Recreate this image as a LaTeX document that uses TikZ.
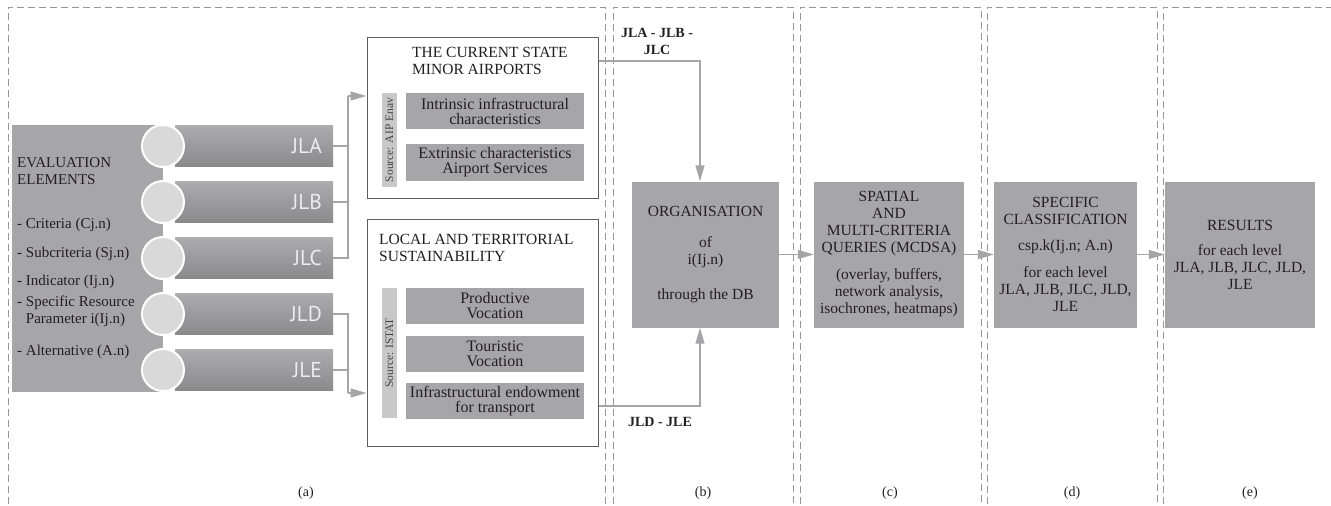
\documentclass[tikz,border=0pt]{standalone}
\usepackage{fontspec}
\setmainfont{Liberation Serif}
\newfontfamily\tabfont{PT Sans}
\usetikzlibrary{arrows.meta}
\definecolor{boxgray}{RGB}{166,166,168}
\definecolor{circgray}{RGB}{217,217,217}
\definecolor{stripgray}{RGB}{200,200,200}
\definecolor{tabtop}{RGB}{172,172,174}
\definecolor{tabbot}{RGB}{138,138,140}
\definecolor{tabtxt}{RGB}{236,236,236}
\definecolor{txt}{RGB}{35,31,32}
\definecolor{linegray}{RGB}{165,165,167}
\definecolor{framegray}{RGB}{150,150,150}
\definecolor{bordergray}{RGB}{95,95,95}
\newcommand\mfs{\fontsize{15.5}{17}\selectfont}
\newcommand\sfs{\fontsize{16}{15}\selectfont}
\newcommand\efs{\fontsize{15}{17}\selectfont}
\tikzset{
  frame/.style={draw=framegray, line width=0.9pt, dash pattern=on 7pt off 4pt},
  gbox/.style={fill=boxgray, draw=none, inner sep=0pt, align=center, font=\mfs, text=txt},
  sbox/.style={gbox, font=\sfs, minimum width=178pt, minimum height=36pt},
  wbox/.style={draw=bordergray, line width=1pt, fill=white, inner sep=0pt},
  strip/.style={fill=stripgray, inner sep=0pt, rotate=90, font=\fontsize{11.5}{12}\selectfont, text=txt!85},
  tabbox/.style={top color=tabtop, bottom color=tabbot, draw=none, minimum width=158pt, minimum height=41pt,
     text width=136pt, align=right, inner xsep=11pt, inner ysep=0pt, font=\tabfont\fontsize{21.5}{21}\selectfont, text=tabtxt},
  circ/.style={circle, fill=circgray, draw=white, line width=2pt, minimum size=42pt, inner sep=0pt},
  conn/.style={draw=linegray, line width=1.2pt},
  arr/.style={conn, -{Triangle[length=16pt,width=9pt]}},
  etxt/.style={anchor=west, inner sep=0pt, font=\efs, text=txt},
  ttl/.style={anchor=west, inner sep=0pt, align=left, font=\mfs, text=txt},
  blab/.style={inner sep=0pt, align=center, font=\fontsize{14}{17}\selectfont\bfseries, text=txt},
  clab/.style={inner sep=0pt, font=\fontsize{14}{16}\selectfont, text=txt},
}
\begin{document}
\begin{tikzpicture}[x=1pt,y=-1pt]
\useasboundingbox (0,0) rectangle (1331,506);
% dashed column frames
\draw[frame] (8,515) -- (8,7) -- (605,7) -- (605,515);
\draw[frame] (613,515) -- (613,7) -- (793,7) -- (793,515);
\draw[frame] (800,515) -- (800,7) -- (981,7) -- (981,515);
\draw[frame] (987,515) -- (987,7) -- (1157,7) -- (1157,515);
\draw[frame] (1163,515) -- (1163,7) -- (1345,7);

% evaluation elements box
\node[fill=boxgray, inner sep=0pt, minimum width=151pt, minimum height=267pt] (eval) at (87.5,258.5) {};
\node[etxt, align=left] (et) at (17,171) {EVALUATION\\ELEMENTS};
\node[etxt] (e1) at (17,225) {- Criteria (Cj.n)};
\node[etxt] (e2) at (17,254) {- Subcriteria (Sj.n)};
\node[etxt] (e3) at (17,282) {- Indicator (Ij.n)};
\node[etxt, align=left] (e4) at (17,311) {- Specific Resource\\\hphantom{- }Parameter i(Ij.n)};
\node[etxt] (e5) at (17,352) {- Alternative (A.n)};

% tabs and circles
\node[tabbox] (jla) at (254,146) {JLA};
\node[tabbox] (jlb) at (254,202) {JLB};
\node[tabbox] (jlc) at (254,258) {JLC};
\node[tabbox] (jld) at (254,314) {JLD};
\node[tabbox] (jle) at (254,370) {JLE};
\node[circ] (ca) at (163,146) {};
\node[circ] (cb) at (163,202) {};
\node[circ] (cc) at (163,258) {};
\node[circ] (cd) at (163,314) {};
\node[circ] (ce) at (163,370) {};

% box 1
\node[wbox, minimum width=231pt, minimum height=161pt] (cur) at (482.5,117.5) {};
\node[ttl] (t1) at (412,60.5) {THE CURRENT STATE\\MINOR AIRPORTS};
\node[strip, minimum width=94pt, minimum height=15pt] (s1) at (389.5,140) {Source: AIP Enav};
\node[sbox] (intr) at (495,111) {Intrinsic infrastructural\\characteristics};
\node[sbox, minimum height=37pt] (extr) at (495,162.5) {Extrinsic characteristics\\Airport Services};

% box 2
\node[wbox, minimum width=231pt, minimum height=227pt] (loc) at (482.5,332.5) {};
\node[ttl] (t2) at (379,247.5) {LOCAL AND TERRITORIAL\\SUSTAINABILITY};
\node[strip, minimum width=130pt, minimum height=15pt] (s2) at (389.5,353) {Source: ISTAT};
\node[sbox] (prod) at (495,306) {Productive\\Vocation};
\node[sbox] (tour) at (495,354) {Touristic\\Vocation};
\node[sbox] (infr) at (495,401) {Infrastructural endowment\\for transport};

% connectors from tabs
\coordinate (busA) at (348,96);
\coordinate (busB) at (348,393);
\draw[conn] (jla.east) -- (jla.east -| busA);
\draw[conn] (jlb.east) -- (jlb.east -| busA);
\draw[conn] (jlc.east) -| (busA);
\draw[arr] (busA) -- (busA -| cur.west);
\draw[conn] (jld.east) -| (busB);
\draw[conn] (jle.east) -- (jle.east -| busB);
\draw[arr] (busB) -- (busB -| loc.west);

% column b
\node[gbox, minimum width=147pt, minimum height=146pt] (org) at (705.5,254.5)
  {ORGANISATION\\[14pt] of\\ i(Ij.n)\\[18pt] through the DB};
\coordinate (k1) at (700,61);
\coordinate (k2) at (700,406);
\draw[arr] (k1 -| cur.east) -- (k1) -- (k1 |- org.north);
\draw[arr] (k2 -| loc.east) -- (k2) -- (k2 |- org.south);
\node[blab] (lab1) at (657,41.5) {JLA - JLB -\\JLC};
\node[blab] (lab2) at (660,422) {JLD - JLE};

% columns c, d, e
\node[gbox, minimum width=150pt, minimum height=146pt] (spat) at (889,254.5)
  {SPATIAL\\AND\\MULTI-CRITERIA\\QUERIES (MCDSA)\\[10pt](overlay, buffers,\\network analysis,\\isochrones, heatmaps)};
\node[gbox, minimum width=143pt, minimum height=146pt] (clas) at (1065.5,254.5)
  {SPECIFIC\\CLASSIFICATION\\[9pt]csp.k(Ij.n; A.n)\\[10pt]for each level\\JLA, JLB, JLC, JLD,\\JLE};
\node[gbox, minimum width=150pt, minimum height=146pt] (res) at (1240,254.5)
  {RESULTS\\[8pt]for each level\\JLA, JLB, JLC, JLD,\\JLE};
\draw[arr] (org.east) -- (spat.west);
\draw[arr] (spat.east) -- (clas.west);
\draw[arr] (clas.east) -- (res.west);

% column labels
\node[clab] (la) at (306,493) {(a)};
\node[clab] (lb) at (703,493) {(b)};
\node[clab] (lc) at (890,493) {(c)};
\node[clab] (ld) at (1072,493) {(d)};
\node[clab] (le) at (1250,493) {(e)};
\end{tikzpicture}
\end{document}
